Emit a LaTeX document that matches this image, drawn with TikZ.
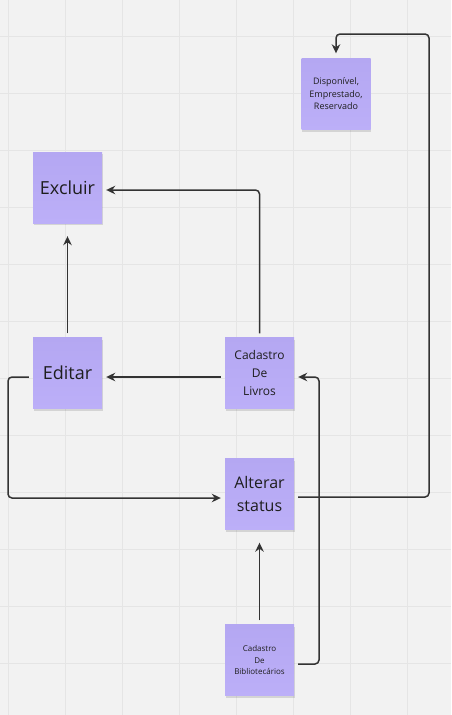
\documentclass[tikz,border=0pt]{standalone}
\usepackage{fontspec}
\setmainfont{Open Sans}
\usetikzlibrary{arrows.meta,shadows}
\definecolor{bg}{RGB}{242,242,242}
\definecolor{gridc}{RGB}{229,229,229}
\definecolor{note}{RGB}{188,175,248}
\definecolor{notetop}{RGB}{180,167,242}
\definecolor{lc}{RGB}{51,51,51}
\definecolor{txt}{RGB}{30,30,30}
\tikzset{
  sticky/.style={rectangle, minimum width=69pt, minimum height=71pt, inner sep=0pt,
    top color=notetop, bottom color=note, text=txt, align=center,
    drop shadow={shadow xshift=0.5pt, shadow yshift=-2pt, opacity=0.12, fill=black}},
  conn/.style={draw=lc, line width=1.5pt, rounded corners=4pt,
    -{Stealth[length=9pt,width=8.5pt]}}
}
\begin{document}
\begin{tikzpicture}[x=1pt,y=-1pt]
\useasboundingbox (0,0) rectangle (451,715);
\fill[bg] (0,0) rectangle (451,715);
\foreach \gx in {8,65,...,451} \draw[gridc, line width=1pt] (\gx,0) -- (\gx,715);
\foreach \gy in {36,93,...,715} \draw[gridc, line width=1pt] (0,\gy) -- (451,\gy);

\node[sticky, font=\fontsize{9}{12.5}\selectfont] (disp) at (336,94) {Disponível,\\Emprestado,\\Reservado};
\node[sticky, font=\fontsize{18}{22}\selectfont] (excl) at (67.5,187.5) {Excluir};
\node[sticky, font=\fontsize{18}{22}\selectfont] (edit) at (67.5,373) {Editar};
\node[sticky, font=\fontsize{12}{18}\selectfont] (livros) at (259.5,373) {Cadastro\\De\\Livros};
\node[sticky, font=\fontsize{16}{23}\selectfont] (alt) at (259.5,494) {Alterar\\status};
\node[sticky, font=\fontsize{8}{11.5}\selectfont] (bib) at (259.5,660) {Cadastro\\De\\Bibliotecários};

\coordinate (c1) at (429,34);
\coordinate (c2) at (8,440);
\coordinate (c3) at (319,520);

\draw[conn] ([xshift=4pt,yshift=-3pt]alt.east) -| (c1) -| ([yshift=5pt]disp.north);
\draw[conn] ([yshift=4pt]livros.north) |- ([xshift=4pt,yshift=-2.5pt]excl.east);
\draw[conn] ([yshift=4pt]edit.north) -- ([yshift=-13pt]excl.south);
\draw[conn] ([xshift=-4pt,yshift=-4pt]livros.west) -- ([xshift=4pt,yshift=-4pt]edit.east);
\draw[conn] ([xshift=-4pt,yshift=-4pt]edit.west) -| (c2) |- ([xshift=-4pt,yshift=-4pt]alt.west);
\draw[conn] ([yshift=4pt]bib.north) -- ([yshift=-13pt]alt.south);
\draw[conn] ([xshift=4pt,yshift=-4pt]bib.east) -| (c3) |- ([xshift=4pt,yshift=-4pt]livros.east);
\end{tikzpicture}
\end{document}
